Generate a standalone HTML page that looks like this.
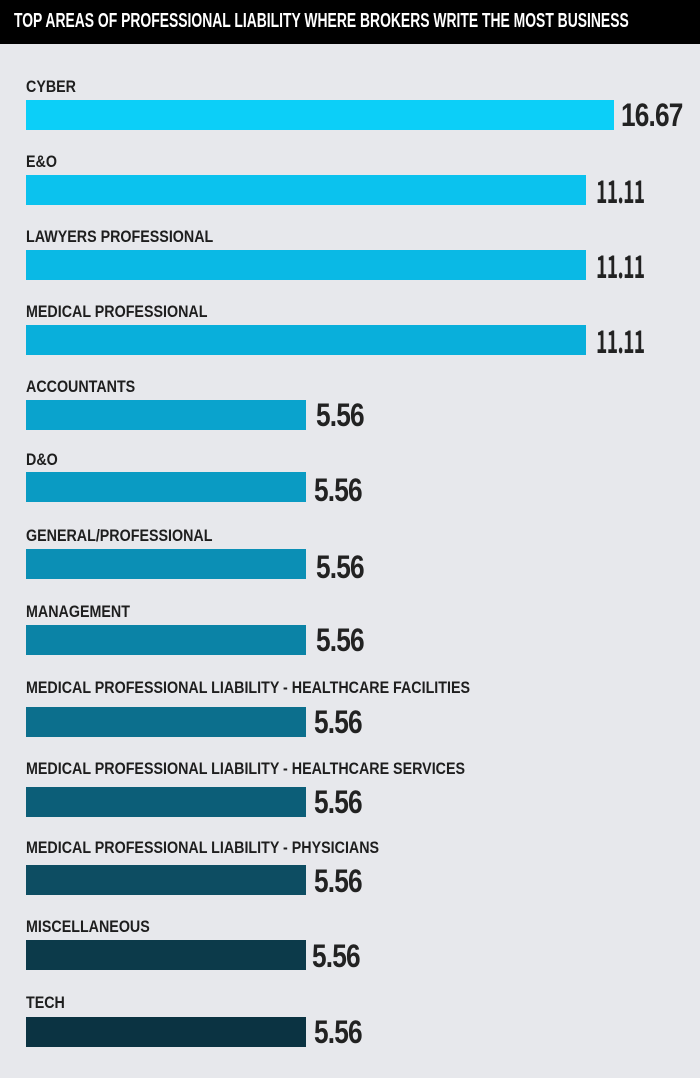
<!DOCTYPE html>
<html><head><style>
body{margin:0;width:700px;height:1078px;background:#e7e8ec;position:relative;overflow:hidden;font-family:"Liberation Sans Narrow","Liberation Sans",sans-serif;}
.hdr{position:absolute;left:0;top:0;width:700px;height:44px;background:#000;overflow:hidden;}
.hdr span{position:absolute;left:14px;top:10px;color:#fff;font-weight:bold;font-size:20px;white-space:nowrap;transform:scaleX(0.695);transform-origin:left;}
.lab{position:absolute;left:26px;font-weight:bold;font-size:17px;color:#1e1e1e;white-space:nowrap;transform:scaleX(0.84);transform-origin:left;}
.bar{position:absolute;left:26px;height:30px;}
.val{position:absolute;font-weight:bold;font-size:32px;color:#222;white-space:nowrap;transform:scaleX(0.82);transform-origin:left;letter-spacing:-1px;}
.n{font-family:"Noto Sans CJK JP",sans-serif;font-size:31px;line-height:37px;letter-spacing:-1px;transform:scaleX(0.62);}
</style></head><body>
<div class="hdr"><span>TOP AREAS OF PROFESSIONAL LIABILITY WHERE BROKERS WRITE THE MOST BUSINESS</span></div>

<div class="lab" style="top:77px">CYBER</div>
<div class="bar" style="top:100px;width:588px;background:#0ccff8"></div>
<div class="val" style="top:97px;left:621px">16.67</div>

<div class="lab" style="top:152px">E&amp;O</div>
<div class="bar" style="top:175px;width:560px;background:#0bc2ee"></div>
<div class="val n" style="top:171px;left:596px">11.11</div>

<div class="lab" style="top:227px">LAWYERS PROFESSIONAL</div>
<div class="bar" style="top:250px;width:560px;background:#0ab9e5"></div>
<div class="val n" style="top:246px;left:596px">11.11</div>

<div class="lab" style="top:302px">MEDICAL PROFESSIONAL</div>
<div class="bar" style="top:325px;width:560px;background:#09afdb"></div>
<div class="val n" style="top:321px;left:596px">11.11</div>

<div class="lab" style="top:377px">ACCOUNTANTS</div>
<div class="bar" style="top:400px;width:280px;background:#0aa3cd"></div>
<div class="val" style="top:397px;left:316px">5.56</div>

<div class="lab" style="top:450px">D&amp;O</div>
<div class="bar" style="top:472px;width:280px;background:#0a9bc3"></div>
<div class="val" style="top:472px;left:314px">5.56</div>

<div class="lab" style="top:526px">GENERAL/PROFESSIONAL</div>
<div class="bar" style="top:549px;width:280px;background:#0b8fb5"></div>
<div class="val" style="top:549px;left:316px">5.56</div>

<div class="lab" style="top:602px">MANAGEMENT</div>
<div class="bar" style="top:625px;width:280px;background:#0b83a6"></div>
<div class="val" style="top:622px;left:316px">5.56</div>

<div class="lab" style="top:678px">MEDICAL PROFESSIONAL LIABILITY - HEALTHCARE FACILITIES</div>
<div class="bar" style="top:707px;width:280px;background:#0c6f8d"></div>
<div class="val" style="top:704px;left:314px">5.56</div>

<div class="lab" style="top:759px">MEDICAL PROFESSIONAL LIABILITY - HEALTHCARE SERVICES</div>
<div class="bar" style="top:787px;width:280px;background:#0c5e78"></div>
<div class="val" style="top:784px;left:314px">5.56</div>

<div class="lab" style="top:838px">MEDICAL PROFESSIONAL LIABILITY - PHYSICIANS</div>
<div class="bar" style="top:865px;width:280px;background:#0d4d62"></div>
<div class="val" style="top:863px;left:314px">5.56</div>

<div class="lab" style="top:917px">MISCELLANEOUS</div>
<div class="bar" style="top:940px;width:280px;background:#0c3a4a"></div>
<div class="val" style="top:938px;left:312px">5.56</div>

<div class="lab" style="top:993px">TECH</div>
<div class="bar" style="top:1017px;width:280px;background:#0b3342"></div>
<div class="val" style="top:1014px;left:314px">5.56</div>
</body></html>
